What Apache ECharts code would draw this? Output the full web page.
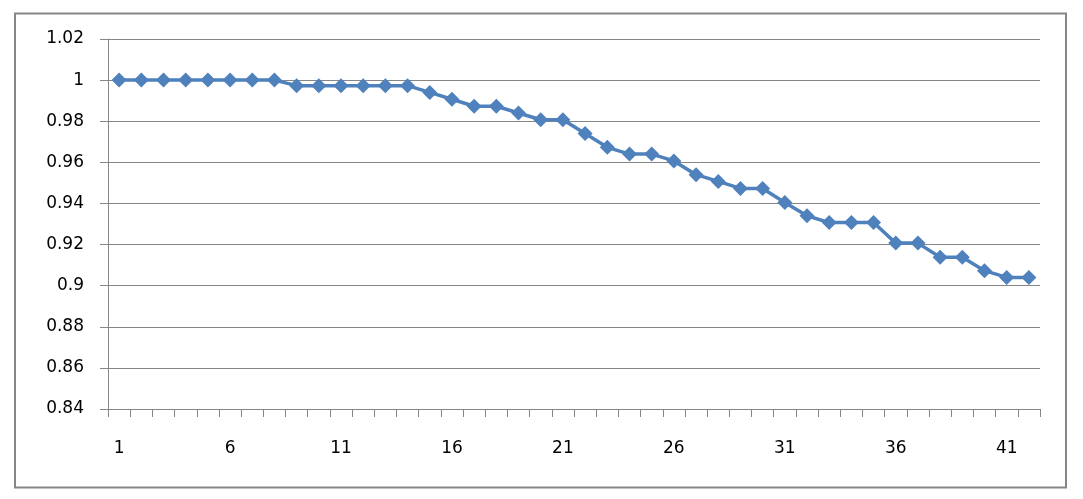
<!DOCTYPE html>
<html>
<head>
<meta charset="utf-8">
<script src="https://cdn.jsdelivr.net/npm/echarts@6/dist/echarts.min.js"></script>
<style>
html,body{margin:0;padding:0;background:#fff;}
#chart{width:1083px;height:499px;}
</style>
</head>
<body>
<div id="chart"></div>
<script>
var categories = [];
for (var i = 1; i <= 42; i++) categories.push(String(i));

var values = [
  1.0, 1.0, 1.0, 1.0, 1.0, 1.0, 1.0, 1.0,
  0.9973, 0.9973, 0.9973, 0.9973, 0.9973, 0.9973,
  0.994, 0.9907, 0.9873, 0.9873, 0.984, 0.9807, 0.9807,
  0.974, 0.9673, 0.964, 0.964, 0.9607, 0.954, 0.9507,
  0.9473, 0.9473, 0.9405, 0.934, 0.9307, 0.9307, 0.9307,
  0.9207, 0.9207, 0.9138, 0.9138, 0.9073, 0.904, 0.904
];

var yMin = 0.84, yMax = 1.02, yStep = 0.02;

var chart = echarts.init(document.getElementById('chart'), null, {renderer: 'canvas'});
var gray = '#868686';
var font = 'DejaVu Sans';
chart.setOption({
  animation: false,
  backgroundColor: '#ffffff',
  graphic: [{
    type: 'rect',
    shape: {x: 15, y: 13.5, width: 1051, height: 474},
    style: {fill: 'none', stroke: gray, lineWidth: 2},
    silent: true
  }],
  grid: {left: 108, right: 43, top: 39, bottom: 90, containLabel: false},
  xAxis: {
    type: 'category',
    data: categories,
    boundaryGap: true,
    axisLine: {lineStyle: {color: gray, width: 1}},
    axisTick: {show: true, interval: 0, length: 8, lineStyle: {color: gray}},
    axisLabel: {interval: 4, margin: 31, color: '#000', fontFamily: font, fontSize: 17},
    splitLine: {show: false}
  },
  yAxis: {
    type: 'value',
    min: yMin, max: yMax, interval: yStep,
    axisLine: {show: true, lineStyle: {color: gray, width: 1}},
    axisTick: {show: true, length: 8, lineStyle: {color: gray}},
    axisLabel: {
      margin: 24, color: '#000', fontFamily: font, fontSize: 17,
      formatter: function (v) { return String(parseFloat(v.toFixed(2))); }
    },
    splitLine: {show: true, lineStyle: {color: gray, width: 1}}
  },
  series: [{
    type: 'line',
    data: values,
    symbol: 'diamond',
    symbolSize: 15,
    showSymbol: true,
    showAllSymbol: true,
    lineStyle: {color: '#4F81BD', width: 3.5},
    itemStyle: {color: '#4F81BD'},
    z: 5
  }]
});
</script>
</body>
</html>
